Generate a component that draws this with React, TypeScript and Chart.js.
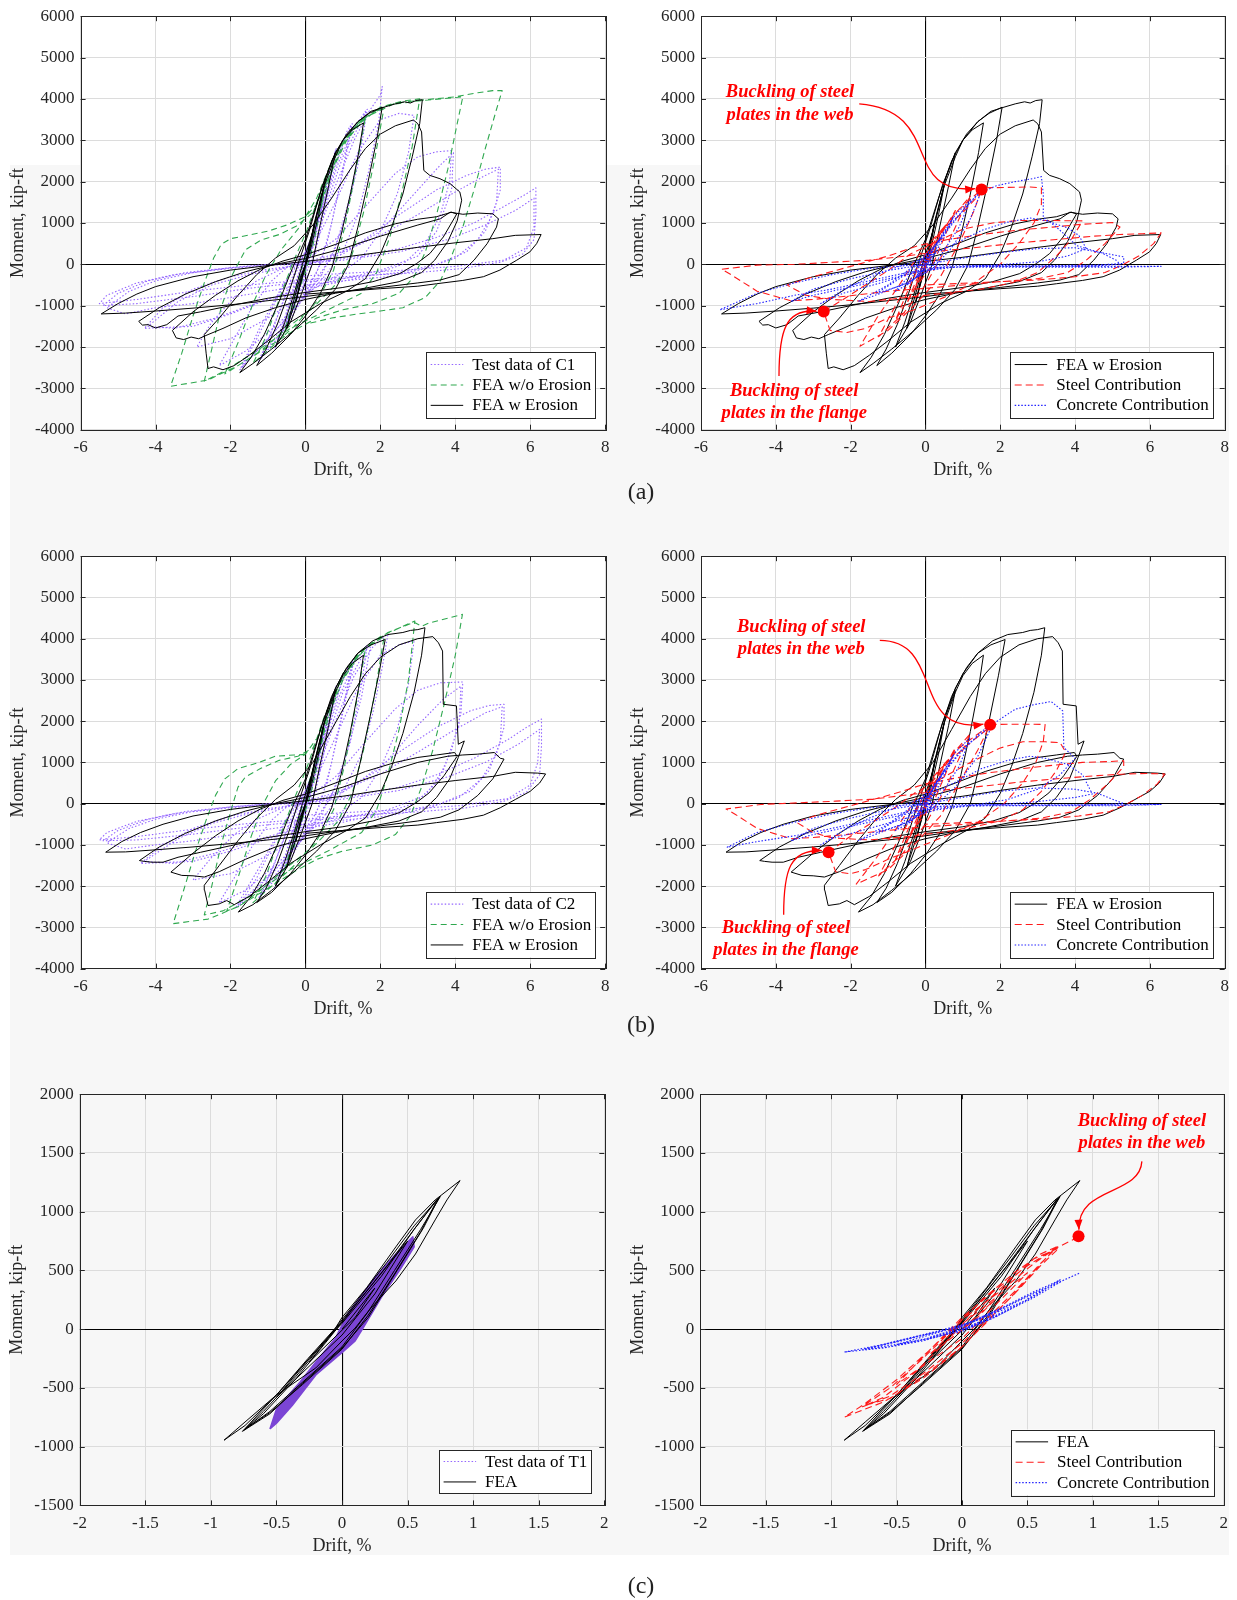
import React, { useEffect, useRef } from "react";
import { Chart, registerables } from "chart.js";
Chart.register(...registerables);

type P = [number, number];
const FONT = "'Liberation Serif', 'Times New Roman', Times, serif";
const AXIS = "#262626";
const GRID = "#dcdcdc";
const RED = "#ff0000";

// ---------- tick labels ----------
const X_TICKS_AB = [-6, -4, -2, 0, 2, 4, 6, 8];
const Y_TICKS_AB = [-4000, -3000, -2000, -1000, 0, 1000, 2000, 3000, 4000, 5000, 6000];
const X_TICKS_C = [-2, -1.5, -1, -0.5, 0, 0.5, 1, 1.5, 2];
const Y_TICKS_C = [-1500, -1000, -500, 0, 500, 1000, 1500, 2000];

// ---------- (a) specimen C1 ----------
const FEA_C1: P[] = [
[0,0],[0.12,500],[0.25,1000],[0.12,380],[0,0],[-0.12,-420],[-0.25,-900],[-0.12,-330],[0,0],
[0.25,1050],[0.5,1900],[0.35,1200],[0.15,400],[0.02,0],[-0.25,-850],[-0.5,-1550],[-0.35,-1000],[-0.15,-350],[0,0],
[0.3,1200],[0.55,2100],[0.8,2700],[0.62,1900],[0.38,900],[0.18,0],[-0.1,-700],[-0.4,-1400],[-0.8,-2000],[-0.55,-1400],[-0.3,-700],[-0.08,0],[0.2,800],
[0.5,1900],[0.8,2600],[1.0,3000],[1.25,3250],[1.55,3420],[1.42,2700],[1.2,1700],[0.95,700],[0.7,-100],[0.4,-700],[0,-1250],[-0.4,-1700],[-0.9,-2150],[-1.3,-2450],
[-1.05,-2050],[-0.75,-1450],[-0.45,-700],[-0.2,0],[0.1,800],[0.45,1900],[0.8,2700],[1.1,3150],[1.4,3450],[1.7,3650],[2.05,3800],
[1.9,3000],[1.65,1900],[1.4,900],[1.15,0],[0.8,-600],[0.3,-1100],[-0.3,-1600],[-0.9,-2050],[-1.4,-2400],[-1.75,-2620],
[-1.45,-2250],[-1.1,-1700],[-0.7,-900],[-0.35,-100],[0,600],[0.35,1600],[0.7,2500],[1.0,3000],[1.4,3450],[1.75,3700],[2.1,3800],[2.4,3880],[2.65,3930],[2.8,3900],[2.95,3960],[3.12,3980],
[3.05,3400],[2.85,2600],[2.6,1700],[2.3,900],[2.0,250],[1.6,-350],[1.1,-650],[0.4,-950],[-0.4,-1400],[-1.0,-1850],[-1.5,-2200],[-1.9,-2450],[-2.2,-2550],[-2.45,-2480],[-2.6,-2520],[-2.65,-2150],[-2.7,-1700],
[-2.3,-1300],[-1.8,-750],[-1.3,-250],[-0.8,150],[-0.3,450],[0.2,950],[0.7,1600],[1.2,2300],[1.6,2800],[2.0,3150],[2.4,3350],[2.88,3490],[3.0,3400],[3.1,3200],[3.16,2270],[3.32,2150],[3.59,2070],[3.86,1950],[4.12,1750],[4.17,1550],
[4.05,1050],[3.8,550],[3.45,100],[3.1,-200],[2.5,-420],[1.7,-560],[0.8,-700],[0,-850],[-0.8,-1050],[-1.6,-1300],[-2.2,-1550],[-2.6,-1700],[-2.85,-1800],[-3.05,-1760],[-3.25,-1820],[-3.45,-1780],[-3.55,-1600],
[-3.0,-1150],[-2.4,-750],[-1.8,-400],[-1.2,-120],[-0.6,80],[0,230],[0.8,480],[1.6,760],[2.4,980],[3.0,1090],[3.5,1150],[3.9,1260],[4.04,1220],
[3.68,660],[3.32,260],[2.97,20],[2.52,-225],[1.8,-420],[1.0,-560],[0,-680],[-1.0,-820],[-2.0,-1000],[-2.8,-1150],[-3.4,-1250],[-3.7,-1460],[-4.0,-1540],[-4.2,-1460],[-4.35,-1470],[-4.45,-1380],
[-3.9,-1050],[-3.2,-720],[-2.4,-420],[-1.6,-180],[-0.8,0],[0,140],[1.0,380],[2.0,680],[3.0,950],[3.6,1100],[3.86,1260],[4.2,1210],[4.6,1240],[5.0,1220],[5.15,1100],[5.1,900],
[4.85,500],[4.5,100],[4.1,-250],[3.6,-380],[3.0,-450],[2.0,-560],[1.0,-660],[0,-780],[-1.0,-880],[-2.0,-980],[-3.0,-1060],[-4.0,-1130],[-4.8,-1180],[-5.45,-1200],
[-5.0,-950],[-4.5,-720],[-4.0,-540],[-3.0,-300],[-2.0,-140],[-1.0,-30],[0,70],[1.0,170],[2.0,290],[3.0,410],[4.0,520],[5.0,620],[5.6,700],[6.29,720],
[6.17,500],[5.99,300],[5.64,100],[5.19,-140],[4.75,-300],[4.2,-390],[3.5,-470],[3.0,-530],[2.0,-590],[1.0,-660],[0,-720]
];

const FEA_NOEROS_C1: P[] = [
[0,0],[0.3,1150],[0.12,350],[0,0],[-0.3,-1050],[-0.1,-300],[0,0],
[0.6,2200],[0.4,1300],[0.15,250],[-0.2,-700],[-0.6,-1750],[-0.35,-950],[-0.1,-100],[0.3,1100],[0.9,2800],[1.3,3300],[1.6,3550],
[1.35,2300],[1.05,900],[0.75,-150],[0.3,-900],[-0.3,-1500],[-0.9,-2000],[-1.4,-2400],
[-1.05,-1750],[-0.7,-850],[-0.35,0],[0.05,850],[0.5,2000],[1.0,3000],[1.5,3500],[2.0,3780],[2.1,3800],
[1.85,2550],[1.55,1250],[1.25,250],[0.85,-450],[0.2,-1050],[-0.5,-1550],[-1.2,-2100],[-1.8,-2450],[-2.15,-2650],
[-1.8,-1900],[-1.4,-950],[-1.05,-250],[-0.65,350],[-0.2,850],[0.3,1600],[0.8,2700],[1.3,3300],[2.0,3800],[2.6,3950],[3.05,4000],
[2.85,2850],[2.55,1650],[2.25,650],[1.9,-200],[1.5,-700],[0.6,-1100],[-0.4,-1550],[-1.4,-2150],[-2.2,-2600],[-2.7,-2830],
[-2.5,-2050],[-2.25,-1050],[-1.95,-250],[-1.6,350],[-1.2,580],[-0.7,720],[-0.25,920],[0.2,1250],[0.6,2050],[1.0,2900],[1.5,3500],[2.2,3850],[3.0,3950],[3.6,4000],[4.2,4050],
[4.05,3400],[3.8,2300],[3.5,1200],[3.2,300],[2.9,-300],[2.5,-700],[1.8,-950],[1.0,-1100],[0.3,-1300],[-0.3,-1600],[-1.0,-2000],[-1.8,-2450],[-2.6,-2800],[-3.6,-2950],
[-3.3,-2150],[-3.0,-1250],[-2.7,-450],[-2.45,150],[-2.25,480],[-2.0,620],[-1.6,690],[-1.0,800],[-0.5,950],[0,1150],[0.35,1500],[0.7,2250],[1.1,3000],[1.6,3550],[2.4,3900],[3.2,3980],[4.0,4050],[4.6,4150],[5.0,4200],[5.25,4200],
[5.1,3750],[4.8,2800],[4.5,1800],[4.2,900],[3.9,200],[3.6,-400],[3.2,-800],[2.6,-1050],[2.0,-1130],[1.4,-1200],[0.7,-1300],[0,-1450]
];

const TEST_C1: P[] = [
[0,0],[0.25,950],[0.1,300],[-0.05,-100],[-0.25,-850],[-0.1,-250],[0.05,100],[0.28,1050],[0.1,250],[-0.28,-900],[-0.05,0],
[0.25,900],[0.5,1850],[0.3,900],[0.1,100],[-0.2,-650],[-0.5,-1500],[-0.3,-800],[-0.1,-150],[0.2,700],[0.52,1950],[0.3,800],[0.05,0],[-0.52,-1550],[-0.1,-100],
[0.3,1000],[0.6,2100],[0.8,2750],[0.6,1700],[0.35,600],[0.1,-200],[-0.3,-1000],[-0.8,-2000],[-0.55,-1300],[-0.3,-500],[0,200],[0.4,1300],[0.82,2800],[0.55,1500],[0.25,300],[-0.2,-700],[-0.82,-2050],[-0.4,-900],[-0.1,0],
[0.3,900],[0.7,2200],[1.1,3200],[1.2,3350],[1.0,2300],[0.7,1000],[0.4,0],[0,-700],[-0.5,-1500],[-1.2,-2300],[-0.9,-1600],[-0.5,-700],[-0.15,0],[0.2,700],[0.6,1800],[1.0,2900],[1.25,3400],[0.95,2000],[0.6,600],[0.3,-200],[-0.3,-1100],[-1.25,-2350],[-0.8,-1400],[-0.4,-400],[0,300],
[0.4,1200],[0.9,2500],[1.3,3300],[1.6,3700],[1.45,2800],[1.15,1500],[0.8,400],[0.4,-300],[-0.2,-1000],[-0.9,-1700],[-1.7,-2500],[-1.3,-1800],[-0.8,-900],[-0.4,-200],[0,300],[0.5,1300],[1.0,2600],[1.4,3300],[1.65,3750],[1.45,2600],[1.1,1200],[0.7,200],[0.2,-500],[-0.6,-1400],[-1.75,-2550],[-1.2,-1500],[-0.6,-500],[-0.2,0],
[0.3,700],[0.8,1900],[1.3,3000],[1.7,3700],[2.0,4100],[2.05,4300],[1.95,3400],[1.7,2300],[1.4,1200],[1.0,300],[0.5,-300],[0,-800],[-0.8,-1500],[-1.6,-2100],[-2.3,-2450],[-1.9,-1800],[-1.4,-1000],[-0.9,-400],[-0.4,0],[0.2,400],[0.8,1500],[1.4,2700],[2.0,3500],[2.5,3650],[2.9,3600],[2.75,2700],[2.45,1700],[2.0,800],[1.5,150],[0.8,-300],[0,-700],[-1.0,-1300],[-2.0,-1800],[-2.9,-2000],[-2.5,-1400],[-1.9,-800],[-1.3,-400],[-0.6,-100],[0,100],
[0.8,600],[1.6,1400],[2.4,2200],[3.0,2600],[3.5,2720],[3.9,2750],[3.85,2000],[3.6,1200],[3.2,500],[2.6,0],[1.8,-250],[0.8,-450],[0,-600],[-1.0,-850],[-2.0,-1200],[-3.0,-1500],[-4.3,-1550],[-3.8,-1050],[-3.0,-600],[-2.0,-300],[-1.0,-120],[0,0],[1.0,250],[2.0,800],[3.0,1800],[3.6,2400],[3.95,2700],[3.9,1800],[3.5,800],[3.0,200],[2.0,-150],[1.0,-350],[0,-550],[-1.2,-900],[-2.4,-1300],[-3.5,-1550],[-4.2,-1500],[-3.4,-900],[-2.5,-500],[-1.5,-250],[-0.5,-80],
[0.5,100],[1.5,550],[2.5,1200],[3.5,1800],[4.3,2150],[4.8,2300],[5.2,2350],[5.2,1800],[5.0,1200],[4.6,600],[4.0,150],[3.2,-100],[2.2,-300],[1.0,-400],[0,-500],[-1.0,-650],[-2.0,-800],[-3.0,-950],[-4.0,-1050],[-4.8,-1200],[-5.3,-1050],[-4.7,-650],[-4.0,-400],[-3.0,-200],[-2.0,-80],[-1.0,0],[0,50],[1.0,300],[2.0,700],[3.0,1200],[4.0,1750],[4.8,2150],[5.15,2300],[5.1,1500],[4.8,800],[4.3,300],[3.5,0],[2.5,-200],[1.2,-320],[0,-420],[-1.5,-580],[-3.0,-780],[-4.5,-950],[-5.4,-1000],
[-5.0,-700],[-4.2,-400],[-3.2,-200],[-2.0,-80],[-0.8,0],[0.5,80],[1.5,200],[2.5,380],[3.5,650],[4.5,1000],[5.3,1400],[5.8,1650],[6.15,1850],[6.15,1200],[6.1,600],[5.8,250],[5.2,50],[4.2,-100],[3.0,-200],[2.0,-250],[1.0,-300],[0,-380],[-1.5,-500],[-3.0,-650],[-4.5,-850],[-5.5,-950],[-5.3,-750],[-4.5,-450],[-3.5,-250],[-2.0,-100],[-1.0,-30],[0,20],[1.0,100],[2.5,300],[3.8,600],[4.8,950],[5.6,1300],[6.1,1600],[6.1,900],[5.9,400],[5.3,100],[4.0,-50],[2.5,-150],[1.0,-220],[0,-280]
];

const STEEL_C1: P[] = [
[0,0],[0.25,500],[0.1,150],[-0.25,-500],[-0.05,0],
[0.5,900],[0.3,450],[0,-100],[-0.5,-950],[-0.25,-400],[0,100],
[0.8,1300],[0.55,750],[0.2,0],[-0.3,-600],[-0.8,-1350],[-0.5,-700],[-0.1,100],[0.4,800],
[1.2,1650],[0.9,1100],[0.5,300],[0,-500],[-0.6,-1200],[-1.25,-1750],[-0.8,-1000],[-0.3,-200],[0.2,500],[0.8,1250],
[1.5,1810],[1.3,1300],[0.9,500],[0.4,-300],[-0.3,-1000],[-1.0,-1600],[-1.75,-1980],[-1.3,-1300],[-0.7,-500],[-0.2,200],[0.4,800],[1.0,1250],
[1.6,1850],[2.2,1860],[2.8,1870],[3.1,1850],[3.1,1450],[2.9,1000],[2.5,500],[2.0,0],[1.3,-450],[0.5,-800],[-0.3,-1100],[-1.0,-1300],[-1.6,-1550],[-2.1,-1650],[-2.55,-1600],[-2.72,-1143],
[-2.2,-850],[-1.6,-500],[-1.0,-150],[-0.4,250],[0.3,550],[1.0,850],[1.8,1000],[2.5,1060],[3.2,1060],[4.2,1050],
[3.9,600],[3.5,200],[3.0,-200],[2.3,-450],[1.5,-600],[0.5,-700],[-0.5,-800],[-1.5,-900],[-2.5,-850],[-3.2,-750],[-3.7,-500],
[-3.0,-300],[-2.0,-50],[-1.0,200],[-0.2,450],[0.6,600],[1.5,720],[2.5,830],[3.4,900],[4.2,970],[5.0,1010],[5.2,900],
[4.8,500],[4.3,100],[3.8,-200],[3.0,-350],[2.0,-420],[1.0,-500],[0,-580],[-1.0,-650],[-2.0,-760],[-3.0,-850],[-3.6,-880],[-4.5,-650],[-5.2,-250],[-5.45,-120],
[-4.5,-20],[-3.5,0],[-2.5,50],[-1.5,100],[-0.5,200],[0.5,330],[1.5,420],[2.5,520],[3.5,600],[4.5,680],[5.2,720],[5.8,740],[6.3,760],
[6.1,500],[5.7,200],[5.3,0],[4.8,-200],[4.0,-300],[3.0,-380],[2.0,-420],[1.0,-460],[0,-500]
];

const CONC_C1: P[] = [
[0,0],[0.25,450],[0.1,100],[-0.25,-300],[-0.05,0],
[0.5,800],[0.2,200],[-0.1,-200],[-0.5,-500],[-0.2,-100],[0.1,200],
[0.75,1150],[0.4,500],[0.1,0],[-0.4,-450],[-0.8,-650],[-0.3,-150],[0.2,350],[0.8,1200],
[1.2,1550],[0.9,900],[0.4,200],[0,-200],[-0.6,-500],[-1.3,-700],[-0.7,-350],[-0.2,0],[0.4,600],[1.0,1300],
[1.5,1780],[1.2,1100],[0.7,400],[0.2,-100],[-0.5,-450],[-1.2,-700],[-1.8,-900],[-1.0,-500],[-0.4,-100],[0.2,400],[0.8,1100],[1.4,1700],
[1.9,1900],[2.4,2000],[2.8,2060],[3.1,2120],[3.15,1700],[3.15,1140],[3.5,900],[4.05,450],[4.6,300],[5.3,180],[5.3,20],
[4.5,-20],[3.5,-30],[2.5,-40],[1.5,-50],[0.5,-80],[-0.3,-200],[-1.2,-450],[-2.2,-700],[-2.8,-950],
[-2.2,-620],[-1.5,-320],[-0.8,-80],[0,150],[0.8,500],[1.5,820],[2.2,1020],[2.8,1120],[3.2,1060],[3.8,880],[4.1,700],[4.3,380],
[3.8,200],[3.0,60],[2.0,-10],[1.0,-50],[0,-150],[-1.0,-350],[-2.0,-550],[-3.0,-750],[-3.6,-900],
[-3.0,-600],[-2.0,-350],[-1.0,-150],[0,0],[1.0,150],[2.0,280],[3.0,380],[4.0,400],[4.7,280],[5.1,100],[5.2,0],
[4.5,-40],[3.5,-50],[2.0,-50],[0.5,-60],[-0.5,-200],[-1.5,-400],[-2.5,-600],[-3.5,-750],[-4.5,-950],[-5.5,-1100],
[-4.5,-700],[-3.5,-450],[-2.5,-250],[-1.5,-100],[-0.5,-30],[0.5,-20],[2.0,-30],[3.5,-40],[5.0,-50],[6.3,-50],
[5.0,-70],[3.5,-70],[2.0,-70],[0.5,-70],[0,-80]
];

// ---------- (b) specimen C2 ----------
const FEA_C2: P[] = [
[0,0],[0.12,500],[0.25,1000],[0.12,380],[0,0],[-0.12,-420],[-0.25,-900],[-0.12,-330],[0,0],
[0.25,1050],[0.5,1950],[0.35,1200],[0.15,400],[0.02,0],[-0.25,-850],[-0.5,-1550],[-0.35,-1000],[-0.15,-350],[0,0],
[0.3,1200],[0.55,2150],[0.8,2750],[0.62,1900],[0.38,900],[0.18,0],[-0.1,-700],[-0.4,-1400],[-0.8,-2000],[-0.55,-1400],[-0.3,-700],[-0.08,0],[0.2,800],
[0.5,1950],[0.8,2700],[1.0,3100],[1.25,3400],[1.55,3600],[1.42,2800],[1.2,1750],[0.95,700],[0.7,-100],[0.4,-700],[0,-1250],[-0.4,-1700],[-0.9,-2150],[-1.3,-2400],
[-1.05,-2050],[-0.75,-1450],[-0.45,-700],[-0.2,0],[0.1,800],[0.45,1950],[0.8,2800],[1.1,3300],[1.4,3650],[1.75,3850],[2.13,3980],
[1.95,3100],[1.7,2000],[1.45,950],[1.2,0],[0.8,-650],[0.3,-1150],[-0.3,-1650],[-0.9,-2100],[-1.4,-2450],[-1.79,-2630],
[-1.45,-2250],[-1.1,-1700],[-0.7,-900],[-0.35,-100],[0,600],[0.35,1650],[0.7,2600],[1.0,3150],[1.4,3650],[1.8,3950],[2.2,4100],[2.6,4150],[2.8,4200],[3.0,4220],[3.19,4266],
[3.1,3600],[2.9,2700],[2.6,1700],[2.3,900],[2.0,250],[1.6,-350],[1.1,-650],[0.4,-1000],[-0.4,-1450],[-1.0,-1900],[-1.5,-2250],[-1.9,-2450],[-2.1,-2350],[-2.3,-2430],[-2.6,-2470],[-2.69,-2100],[-2.7,-1980],
[-2.3,-1500],[-1.8,-900],[-1.3,-350],[-0.8,100],[-0.3,450],[0.2,1000],[0.7,1800],[1.2,2600],[1.6,3150],[2.0,3550],[2.5,3850],[3.0,4000],[3.4,4050],[3.55,3900],[3.66,3700],[3.68,2410],[4.03,2370],[4.08,1440],[4.24,1520],[4.08,1120],
[3.85,600],[3.5,150],[3.1,-200],[2.5,-420],[1.7,-560],[0.8,-700],[0,-850],[-0.8,-1050],[-1.6,-1350],[-2.3,-1650],[-2.7,-1780],[-3.0,-1750],[-3.3,-1740],[-3.59,-1660],
[-3.0,-1200],[-2.4,-780],[-1.8,-420],[-1.2,-130],[-0.6,80],[0,230],[0.8,500],[1.6,780],[2.4,1000],[3.0,1120],[3.5,1180],[3.98,1240],[4.05,1150],
[3.7,680],[3.3,260],[2.95,20],[2.5,-220],[1.8,-420],[1.0,-560],[0,-680],[-1.0,-820],[-2.0,-1020],[-2.8,-1180],[-3.4,-1300],[-3.8,-1420],[-4.1,-1420],[-4.3,-1400],[-4.43,-1380],
[-3.9,-1050],[-3.2,-720],[-2.4,-420],[-1.6,-180],[-0.8,0],[0,150],[1.0,400],[2.0,720],[3.0,1000],[3.8,1150],[4.2,1180],[4.6,1200],[5.04,1240],[5.2,1100],[5.3,1080],
[5.0,600],[4.6,200],[4.1,-150],[3.6,-330],[3.0,-420],[2.0,-540],[1.0,-650],[0,-780],[-1.0,-880],[-2.0,-970],[-3.0,-1050],[-4.0,-1120],[-4.8,-1170],[-5.33,-1177],
[-4.9,-920],[-4.4,-700],[-3.8,-500],[-3.0,-300],[-2.0,-140],[-1.0,-30],[0,70],[1.0,180],[2.0,320],[3.0,450],[4.0,560],[5.0,660],[5.6,760],[6.2,740],[6.41,720],
[6.25,500],[6.0,300],[5.6,100],[5.2,-100],[4.75,-280],[4.2,-380],[3.5,-460],[3.0,-520],[2.0,-580],[1.0,-650],[0,-720]
];

const FEA_NOEROS_C2: P[] = [
[0,0],[0.3,1150],[0.12,350],[0,0],[-0.3,-1050],[-0.1,-300],[0,0],
[0.6,2250],[0.4,1300],[0.15,250],[-0.2,-700],[-0.6,-1750],[-0.35,-950],[-0.1,-100],[0.3,1150],[0.9,2900],[1.3,3450],[1.6,3750],
[1.35,2400],[1.05,950],[0.75,-150],[0.3,-900],[-0.3,-1500],[-0.9,-2000],[-1.4,-2400],
[-1.05,-1750],[-0.7,-850],[-0.35,0],[0.05,900],[0.5,2100],[1.0,3150],[1.5,3700],[2.0,4000],[2.1,4050],
[1.85,2650],[1.55,1300],[1.25,250],[0.85,-450],[0.2,-1050],[-0.5,-1550],[-1.2,-2100],[-1.8,-2500],[-2.1,-2600],
[-1.8,-1800],[-1.45,-800],[-1.15,-50],[-0.8,550],[-0.4,950],[0,1200],[0.4,1700],[0.9,2900],[1.4,3650],[2.0,4050],[2.6,4300],[2.92,4430],
[2.75,3000],[2.5,1800],[2.2,700],[1.9,-150],[1.5,-700],[0.6,-1150],[-0.4,-1600],[-1.4,-2200],[-2.2,-2600],[-2.7,-2700],
[-2.5,-2000],[-2.25,-1000],[-2.0,-200],[-1.8,400],[-1.6,650],[-1.2,850],[-0.7,1050],[-0.2,1150],[0.2,1350],[0.6,2100],[1.0,3000],[1.5,3700],[2.2,4150],[2.9,4400],[3.1,4300],[3.3,4380],[3.6,4450],[4.19,4590],
[4.0,3600],[3.7,2400],[3.4,1300],[3.1,400],[2.8,-300],[2.4,-750],[1.8,-1000],[1.0,-1150],[0.3,-1350],[-0.3,-1650],[-1.0,-2050],[-1.8,-2500],[-2.6,-2800],[-3.53,-2910],
[-3.25,-2100],[-2.95,-1200],[-2.65,-400],[-2.4,200],[-2.15,600],[-1.8,850],[-1.3,980],[-0.8,1150],[-0.3,1180],[0.1,1200]
];

const TEST_C2: P[] = [
[0,0],[0.25,1000],[0.1,300],[-0.05,-100],[-0.25,-850],[-0.1,-250],[0.05,100],[0.28,1050],[0.1,250],[-0.28,-900],[-0.05,0],
[0.25,950],[0.5,1900],[0.3,900],[0.1,100],[-0.2,-650],[-0.5,-1500],[-0.3,-800],[-0.1,-150],[0.2,750],[0.52,2000],[0.3,800],[0.05,0],[-0.52,-1550],[-0.1,-100],
[0.3,1050],[0.6,2150],[0.8,2750],[0.6,1700],[0.35,600],[0.1,-200],[-0.3,-1000],[-0.8,-2000],[-0.55,-1300],[-0.3,-500],[0,200],[0.4,1350],[0.82,2850],[0.55,1500],[0.25,300],[-0.2,-700],[-0.82,-2050],[-0.4,-900],[-0.1,0],
[0.3,950],[0.7,2300],[1.1,3250],[1.25,3450],[1.0,2300],[0.7,1000],[0.4,0],[0,-700],[-0.5,-1500],[-1.2,-2250],[-0.9,-1600],[-0.5,-700],[-0.15,0],[0.2,750],[0.6,1900],[1.0,3000],[1.3,3500],[0.95,2000],[0.6,600],[0.3,-200],[-0.3,-1100],[-1.25,-2300],[-0.8,-1400],[-0.4,-400],[0,300],
[0.4,1250],[0.9,2600],[1.3,3400],[1.65,3850],[1.5,2900],[1.2,1500],[0.8,400],[0.4,-300],[-0.2,-1000],[-0.9,-1700],[-1.8,-2500],[-1.3,-1800],[-0.8,-900],[-0.4,-200],[0,300],[0.5,1350],[1.0,2700],[1.5,3550],[1.75,3900],[1.5,2600],[1.1,1200],[0.7,200],[0.2,-500],[-0.6,-1400],[-1.85,-2500],[-1.2,-1500],[-0.6,-500],[-0.2,0],
[0.3,750],[0.8,2000],[1.3,3100],[1.8,3800],[2.1,4050],[2.2,4100],[2.05,3300],[1.8,2200],[1.5,1200],[1.0,300],[0.5,-300],[0,-800],[-0.8,-1500],[-1.6,-2100],[-2.3,-2400],[-1.9,-1800],[-1.4,-1000],[-0.9,-400],[-0.4,0],[0.2,450],[0.8,1600],[1.4,2800],[2.0,3600],[2.5,3850],[2.9,3950],[2.75,2900],[2.45,1800],[2.0,850],[1.5,150],[0.8,-300],[0,-700],[-1.0,-1250],[-2.0,-1700],[-3.0,-1850],[-2.5,-1300],[-1.9,-750],[-1.3,-380],[-0.6,-100],[0,100],
[0.8,650],[1.6,1500],[2.4,2300],[3.0,2750],[3.6,2930],[4.2,2950],[4.15,2200],[3.9,1300],[3.5,500],[2.9,0],[2.0,-250],[1.0,-450],[0,-600],[-1.0,-850],[-2.0,-1150],[-3.0,-1400],[-4.4,-1450],[-3.8,-1000],[-3.0,-600],[-2.0,-300],[-1.0,-120],[0,0],[1.0,280],[2.0,850],[3.0,1900],[3.7,2550],[4.15,2850],[4.1,1900],[3.7,850],[3.2,200],[2.2,-150],[1.0,-350],[0,-550],[-1.2,-850],[-2.4,-1200],[-3.5,-1450],[-4.3,-1400],[-3.4,-850],[-2.5,-480],[-1.5,-240],[-0.5,-80],
[0.5,100],[1.5,580],[2.5,1250],[3.5,1850],[4.4,2250],[4.9,2380],[5.3,2410],[5.3,1850],[5.1,1200],[4.7,600],[4.1,150],[3.3,-100],[2.2,-300],[1.0,-400],[0,-500],[-1.0,-620],[-2.0,-760],[-3.0,-900],[-4.0,-1000],[-4.8,-1100],[-5.3,-950],[-4.7,-600],[-4.0,-380],[-3.0,-190],[-2.0,-80],[-1.0,0],[0,50],[1.0,320],[2.0,720],[3.0,1250],[4.0,1800],[4.8,2200],[5.25,2350],[5.2,1500],[4.9,800],[4.4,300],[3.6,0],[2.5,-200],[1.2,-320],[0,-420],[-1.5,-560],[-3.0,-740],[-4.5,-880],[-5.4,-900],
[-5.0,-650],[-4.2,-380],[-3.2,-190],[-2.0,-80],[-0.8,0],[0.5,90],[1.5,220],[2.5,400],[3.5,700],[4.5,1100],[5.4,1550],[5.9,1850],[6.3,2050],[6.3,1400],[6.25,700],[5.9,280],[5.3,60],[4.3,-100],[3.0,-200],[2.0,-250],[1.0,-300],[0,-380],[-1.5,-480],[-3.0,-620],[-4.5,-800],[-5.5,-880],[-5.3,-700],[-4.5,-430],[-3.5,-240],[-2.0,-100],[-1.0,-30],[0,20],[1.0,110],[2.5,320],[3.8,650],[4.8,1000],[5.7,1450],[6.25,1800],[6.2,1000],[6.0,450],[5.4,120],[4.1,-50],[2.5,-150],[1.0,-220],[0,-280]
];

const STEEL_C2: P[] = [
[0,0],[0.25,500],[0.1,150],[-0.25,-500],[-0.05,0],
[0.5,950],[0.3,450],[0,-100],[-0.5,-950],[-0.25,-400],[0,100],
[0.8,1350],[0.55,750],[0.2,0],[-0.3,-600],[-0.8,-1350],[-0.5,-700],[-0.1,100],[0.4,850],
[1.2,1700],[0.9,1100],[0.5,300],[0,-500],[-0.6,-1200],[-1.25,-1750],[-0.8,-1000],[-0.3,-200],[0.2,550],[0.9,1350],
[1.73,1910],[1.4,1300],[0.9,500],[0.4,-300],[-0.3,-1000],[-1.0,-1600],[-1.85,-1950],[-1.3,-1300],[-0.7,-500],[-0.2,200],[0.4,850],[1.1,1400],
[1.8,1920],[2.4,1925],[2.9,1925],[3.2,1920],[3.15,1500],[2.95,1000],[2.6,500],[2.1,0],[1.4,-450],[0.5,-800],[-0.3,-1100],[-1.0,-1350],[-1.6,-1600],[-2.0,-1700],[-2.4,-1650],[-2.59,-1180],
[-2.1,-850],[-1.5,-500],[-0.9,-150],[-0.3,250],[0.4,600],[1.2,1000],[2.0,1350],[2.6,1500],[3.2,1500],[3.6,1480],[3.75,1250],
[3.5,800],[3.1,300],[2.6,-150],[2.0,-420],[1.2,-580],[0.4,-700],[-0.5,-800],[-1.5,-880],[-2.5,-830],[-3.0,-700],[-3.45,-450],
[-2.8,-250],[-1.8,0],[-0.8,250],[0,480],[0.8,620],[1.7,750],[2.6,850],[3.4,930],[4.2,1000],[4.9,1020],[5.3,1040],[5.3,900],
[4.9,500],[4.4,100],[3.9,-200],[3.1,-350],[2.1,-420],[1.1,-500],[0,-560],[-1.0,-650],[-2.0,-740],[-3.0,-820],[-3.6,-850],[-4.5,-600],[-5.1,-250],[-5.33,-130],
[-4.4,-20],[-3.4,20],[-2.4,60],[-1.4,110],[-0.4,220],[0.6,340],[1.6,430],[2.6,530],[3.6,610],[4.6,680],[5.4,720],[5.9,730],[6.4,720],
[6.2,480],[5.8,200],[5.4,0],[4.9,-200],[4.1,-300],[3.1,-380],[2.1,-420],[1.1,-460],[0,-500]
];

const CONC_C2: P[] = [
[0,0],[0.25,450],[0.1,100],[-0.25,-300],[-0.05,0],
[0.5,820],[0.2,200],[-0.1,-200],[-0.5,-500],[-0.2,-100],[0.1,200],
[0.75,1180],[0.4,500],[0.1,0],[-0.4,-450],[-0.8,-650],[-0.3,-150],[0.2,350],[0.8,1250],
[1.2,1600],[0.9,900],[0.4,200],[0,-200],[-0.6,-500],[-1.3,-700],[-0.7,-350],[-0.2,0],[0.4,650],[1.0,1350],
[1.78,1890],[1.4,1150],[0.8,400],[0.2,-100],[-0.5,-450],[-1.2,-700],[-1.8,-900],[-1.0,-500],[-0.4,-100],[0.2,420],[0.9,1200],[1.5,1750],
[2.0,2050],[2.4,2290],[2.9,2400],[3.36,2476],[3.6,2300],[3.67,2250],[3.7,1360],[4.0,1100],[3.6,700],[3.0,350],[2.2,100],[1.2,-50],[0.3,-150],[-0.5,-350],[-1.5,-600],[-2.5,-850],[-2.8,-1000],
[-2.2,-650],[-1.5,-350],[-0.8,-100],[0,150],[0.8,520],[1.5,850],[2.2,1050],[2.8,1150],[3.2,1100],[3.8,950],[4.2,700],[4.46,234],
[4.0,150],[3.0,50],[2.0,-20],[1.0,-50],[0,-150],[-1.0,-350],[-2.0,-550],[-3.0,-750],[-3.6,-900],
[-3.0,-600],[-2.0,-350],[-1.0,-150],[0,0],[1.0,150],[2.0,300],[3.0,380],[4.0,350],[4.6,250],[5.1,72],[5.3,0],
[4.5,-30],[3.5,-40],[2.0,-50],[0.5,-60],[-0.5,-200],[-1.5,-400],[-2.5,-600],[-3.5,-780],[-4.5,-920],[-5.3,-1056],
[-4.5,-700],[-3.5,-450],[-2.5,-250],[-1.5,-100],[-0.5,-30],[0.5,-20],[2.0,-30],[3.5,-30],[5.0,-30],[6.3,-20],
[5.0,-50],[3.5,-50],[2.0,-50],[0.5,-60],[0,-80]
];

// ---------- (c) specimen T1 ----------
const FEA_T1: P[] = [
[0,0],[0.25,350],[0.1,100],[-0.25,-280],[-0.05,0],
[0.5,750],[0.25,300],[0,-50],[-0.5,-580],[-0.25,-250],[0,50],
[0.3,450],[0.55,850],[0.72,1100],[0.75,1130],[0.6,850],[0.4,500],[0.2,150],[0,-150],[-0.3,-450],[-0.55,-700],[-0.75,-860],
[-0.6,-720],[-0.35,-420],[-0.1,-80],[0.1,200],[0.35,550],[0.55,850],[0.73,1110],
[0.6,830],[0.4,470],[0.2,120],[0,-170],[-0.3,-470],[-0.55,-710],[-0.74,-850],
[-0.6,-700],[-0.35,-400],[-0.1,-60],[0.1,220],[0.35,580],[0.55,880],[0.74,1120],
[0.62,860],[0.42,500],[0.2,100],[0,-160],[-0.3,-460],[-0.55,-720],[-0.76,-870],
[-0.5,-560],[-0.26,-250],[-0.05,10],[0,100],[0.19,356],[0.41,700],[0.56,930],[0.71,1100],[0.9,1265],
[0.8,1100],[0.71,930],[0.56,640],[0.41,410],[0.22,180],[0.1,10],[0,-100],[-0.2,-330],[-0.5,-560],[-0.74,-790],[-0.9,-945],
[-0.74,-820],[-0.5,-560],[-0.3,-310],[-0.1,-60],[0,60]
];

const TEST_T1: P[] = [
[-0.55,-850],[-0.5,-680],[-0.32,-450],[-0.2,-280],[-0.05,-75],[0.04,125],[0.25,440],[0.41,640],[0.54,786],
[0.55,700],[0.45,520],[0.3,270],[0.16,10],[0.1,-100],[0.01,-190],[-0.2,-390],[-0.38,-650],[-0.5,-800],[-0.55,-850]
];

const STEEL_T1: P[] = [
[0,0],[0.25,250],[0.1,80],[-0.25,-220],[-0.05,0],
[0.5,480],[0.25,200],[0,-80],[-0.5,-470],[-0.25,-180],[0,80],
[0.3,330],[0.55,560],[0.73,700],[0.6,560],[0.4,320],[0.2,100],[0,-120],[-0.3,-380],[-0.55,-570],[-0.76,-660],
[-0.6,-580],[-0.35,-360],[-0.1,-80],[0.1,150],[0.35,400],[0.55,600],[0.74,690],
[0.6,540],[0.4,300],[0.2,80],[0,-150],[-0.3,-400],[-0.55,-590],[-0.75,-650],
[-0.55,-500],[-0.3,-250],[-0.05,20],[0.15,250],[0.4,480],[0.6,640],[0.72,700],
[0.58,530],[0.38,280],[0.18,50],[-0.02,-170],[-0.3,-420],[-0.6,-620],[-0.9,-750],
[-0.75,-640],[-0.5,-430],[-0.25,-180],[0,100],[0.25,330],[0.5,540],[0.7,680],[0.9,790]
];

const CONC_T1: P[] = [
[0,0],[0.25,120],[0.1,40],[-0.25,-70],[-0.05,0],
[0.5,250],[0.25,100],[0,-20],[-0.5,-130],[-0.25,-50],[0,30],
[0.35,200],[0.6,330],[0.75,400],[0.55,270],[0.3,130],[0.1,30],[-0.2,-70],[-0.5,-130],[-0.75,-170],
[-0.5,-110],[-0.25,-40],[0,30],[0.3,180],[0.55,320],[0.74,410],
[0.5,250],[0.25,110],[0,0],[-0.3,-90],[-0.55,-150],[-0.76,-175],
[-0.5,-100],[-0.2,-20],[0.1,70],[0.4,230],[0.6,340],[0.75,420],
[0.55,280],[0.3,140],[0.05,10],[-0.3,-100],[-0.6,-160],[-0.9,-195],
[-0.6,-130],[-0.3,-50],[0,20],[0.3,170],[0.6,330],[0.9,478],
[0.7,380],[0.5,260]
];

// ---------- buckling markers ----------
const BUCKLE_A: P[] = [[1.5, 1810], [-2.72, -1143]];
const BUCKLE_B: P[] = [[1.73, 1910], [-2.59, -1180]];
const BUCKLE_C: P[] = [[0.89, 790]];

// annotation text anchors (data coords) and arrow bezier controls
const NOTE_WEB = ["Buckling of steel", "plates in the web"];
const NOTE_FLANGE = ["Buckling of steel", "plates in the flange"];
const NOTES_A = [
  { lines: NOTE_WEB, at: [[-3.62, 4150], [-3.62, 3611]] as P[] },
  { lines: NOTE_FLANGE, at: [[-3.51, -3066], [-3.51, -3604]] as P[] },
];
const ARROWS_A: P[][] = [
  [[-1.77, 3881], [0.52, 3715], [-0.68, 1664], [1.33, 1830]],
  [[-3.915, -2704], [-3.915, -1594], [-3.728, -1063], [-2.91, -1135]],
];
const NOTES_B = [
  { lines: NOTE_WEB, at: [[-3.32, 4275], [-3.32, 3734]] as P[] },
  { lines: NOTE_FLANGE, at: [[-3.73, -3015], [-3.73, -3556]] as P[] },
];
const ARROWS_B: P[][] = [
  [[-1.22, 3959], [0.52, 3954], [-0.41, 1661], [1.55, 1927]],
  [[-3.79, -2694], [-3.79, -1596], [-3.62, -1113], [-2.77, -1137]],
];
const NOTES_C = [{ lines: NOTE_WEB, at: [[1.374, 1774], [1.374, 1584]] as P[] }];
const ARROWS_C: P[][] = [[[1.374, 1428], [1.359, 1134], [0.878, 1219], [0.893, 846]]];

// ---------- styles ----------
const ST = {
  black: { color: "#000000", width: 1, dash: [] as number[] },
  green: { color: "#2fa84f", width: 1.1, dash: [6, 4] },
  purple: { color: "#9466ff", width: 1.1, dash: [1.5, 2] },
  red: { color: "#ff1a1a", width: 1.1, dash: [7, 4] },
  blue: { color: "#2323ff", width: 1.1, dash: [1.5, 1.8] },
};

type Style = { color: string; width: number; dash: number[] };
type Series = { data: P[]; style: Style; fill?: string };
type Rect = { l: number; t: number; r: number; b: number };
type Panel = {
  col: number;
  plot: Rect;
  xr: [number, number];
  yr: [number, number];
  xTicks: number[];
  yTicks: number[];
  series: Series[];
  dots: P[];
  legend: { label: string; style: Style }[];
  legendGap: [number, number];
  notes: { lines: string[]; at: P[] }[];
  arrows: P[][];
  white: boolean;
};

const PLOT_AL: Rect = { l: 80.6, t: 15.3, r: 605.2, b: 429.7 };
const PLOT_AR: Rect = { l: 701, t: 15.3, r: 1224.7, b: 429.7 };
const PLOT_BL: Rect = { l: 80.6, t: 555.2, r: 605.2, b: 968.6 };
const PLOT_BR: Rect = { l: 701, t: 555.2, r: 1224.7, b: 968.6 };
const PLOT_CL: Rect = { l: 79.8, t: 1093, r: 604.3, b: 1505.4 };
const PLOT_CR: Rect = { l: 700.3, t: 1093, r: 1223.8, b: 1505.4 };

const PANELS: Panel[] = [
  {
    col: 0, plot: PLOT_AL, xr: [-6, 8], yr: [-4000, 6000], xTicks: X_TICKS_AB, yTicks: Y_TICKS_AB,
    series: [{ data: FEA_C1, style: ST.black }, { data: FEA_NOEROS_C1, style: ST.green }, { data: TEST_C1, style: ST.purple }],
    dots: [],
    legend: [{ label: "Test data of C1", style: ST.purple }, { label: "FEA w/o Erosion", style: ST.green }, { label: "FEA w Erosion", style: ST.black }],
    legendGap: [10, 12], notes: [], arrows: [], white: true,
  },
  {
    col: 1, plot: PLOT_AR, xr: [-6, 8], yr: [-4000, 6000], xTicks: X_TICKS_AB, yTicks: Y_TICKS_AB,
    series: [{ data: CONC_C1, style: ST.blue }, { data: STEEL_C1, style: ST.red }, { data: FEA_C1, style: ST.black }],
    dots: BUCKLE_A,
    legend: [{ label: "FEA w Erosion", style: ST.black }, { label: "Steel Contribution", style: ST.red }, { label: "Concrete Contribution", style: ST.blue }],
    legendGap: [12, 12], notes: NOTES_A, arrows: ARROWS_A, white: true,
  },
  {
    col: 0, plot: PLOT_BL, xr: [-6, 8], yr: [-4000, 6000], xTicks: X_TICKS_AB, yTicks: Y_TICKS_AB,
    series: [{ data: FEA_C2, style: ST.black }, { data: FEA_NOEROS_C2, style: ST.green }, { data: TEST_C2, style: ST.purple }],
    dots: [],
    legend: [{ label: "Test data of C2", style: ST.purple }, { label: "FEA w/o Erosion", style: ST.green }, { label: "FEA w Erosion", style: ST.black }],
    legendGap: [10, 11.3], notes: [], arrows: [], white: true,
  },
  {
    col: 1, plot: PLOT_BR, xr: [-6, 8], yr: [-4000, 6000], xTicks: X_TICKS_AB, yTicks: Y_TICKS_AB,
    series: [{ data: CONC_C2, style: ST.blue }, { data: STEEL_C2, style: ST.red }, { data: FEA_C2, style: ST.black }],
    dots: BUCKLE_B,
    legend: [{ label: "FEA w Erosion", style: ST.black }, { label: "Steel Contribution", style: ST.red }, { label: "Concrete Contribution", style: ST.blue }],
    legendGap: [12, 11.3], notes: NOTES_B, arrows: ARROWS_B, white: true,
  },
  {
    col: 0, plot: PLOT_CL, xr: [-2, 2], yr: [-1500, 2000], xTicks: X_TICKS_C, yTicks: Y_TICKS_C,
    series: [{ data: FEA_T1, style: ST.black }, { data: TEST_T1, style: { color: "#7b45d5", width: 1.5, dash: [] }, fill: "#7b45d5" }],
    dots: [],
    legend: [{ label: "Test data of T1", style: ST.purple }, { label: "FEA", style: ST.black }],
    legendGap: [13, 12], notes: [], arrows: [], white: false,
  },
  {
    col: 1, plot: PLOT_CR, xr: [-2, 2], yr: [-1500, 2000], xTicks: X_TICKS_C, yTicks: Y_TICKS_C,
    series: [{ data: CONC_T1, style: ST.blue }, { data: STEEL_T1, style: ST.red }, { data: FEA_T1, style: ST.black }],
    dots: BUCKLE_C,
    legend: [{ label: "FEA", style: ST.black }, { label: "Steel Contribution", style: ST.red }, { label: "Concrete Contribution", style: ST.blue }],
    legendGap: [10.2, 10.4], notes: NOTES_C, arrows: ARROWS_C, white: false,
  },
];

const SUB_LABELS = [
  { text: "(a)", y: 491 },
  { text: "(b)", y: 1024 },
  { text: "(c)", y: 1585 },
];

const COL_X = [0, 630];
const COL_W = [640, 607];
const CANVAS_H = 500;

function makePlugin(p: Panel) {
  return {
    id: "panelDeco",
    beforeDraw(chart: any) {
      if (!p.white) return;
      const { ctx, chartArea: a } = chart;
      ctx.save();
      ctx.fillStyle = "#ffffff";
      ctx.fillRect(a.left, a.top, a.right - a.left, a.bottom - a.top);
      ctx.restore();
    },
    afterDatasetsDraw(chart: any) {
      const { ctx, chartArea: a, scales } = chart;
      const xs = scales.x, ys = scales.y;
      ctx.save();
      ctx.strokeStyle = AXIS;
      ctx.lineWidth = 1;
      ctx.setLineDash([]);
      ctx.beginPath();
      for (const v of p.xTicks) {
        const px = Math.round(xs.getPixelForValue(v)) + 0.5;
        ctx.moveTo(px, a.bottom); ctx.lineTo(px, a.bottom - 5);
        ctx.moveTo(px, a.top); ctx.lineTo(px, a.top + 5);
      }
      for (const v of p.yTicks) {
        const py = Math.round(ys.getPixelForValue(v)) + 0.5;
        ctx.moveTo(a.left, py); ctx.lineTo(a.left + 5, py);
        ctx.moveTo(a.right, py); ctx.lineTo(a.right - 5, py);
      }
      ctx.stroke();
      ctx.strokeRect(Math.round(a.left) + 0.5, Math.round(a.top) + 0.5, Math.round(a.right - a.left), Math.round(a.bottom - a.top));
      ctx.restore();
    },
    afterDraw(chart: any) {
      const { ctx, chartArea: a, scales } = chart;
      const xs = scales.x, ys = scales.y;
      ctx.save();
      // axis titles
      ctx.fillStyle = AXIS;
      ctx.font = `18px ${FONT}`;
      ctx.textAlign = "center";
      ctx.textBaseline = "middle";
      ctx.fillText("Drift, %", (a.left + a.right) / 2, a.bottom + 41);
      ctx.save();
      ctx.translate(a.left - 62.5, (a.top + a.bottom) / 2);
      ctx.rotate(-Math.PI / 2);
      ctx.fillText("Moment, kip-ft", 0, 0);
      ctx.restore();

      // legend
      ctx.font = `17px ${FONT}`;
      const tw = Math.max(...p.legend.map((l) => ctx.measureText(l.label).width));
      const rowH = 20.4;
      const n = p.legend.length;
      const w = 46 + tw + 4;
      const h = n * rowH + (n > 2 ? 4.3 : 2.5);
      const x0 = a.right - p.legendGap[0] - w;
      const y0 = a.bottom - p.legendGap[1] - h;
      ctx.fillStyle = "#ffffff";
      ctx.fillRect(x0, y0, w, h);
      ctx.strokeStyle = AXIS;
      ctx.lineWidth = 1;
      ctx.setLineDash([]);
      ctx.strokeRect(Math.round(x0) + 0.5, Math.round(y0) + 0.5, Math.round(w), Math.round(h));
      p.legend.forEach((l, i) => {
        const cy = y0 + (h - n * rowH) / 2 + rowH * (i + 0.5);
        ctx.strokeStyle = l.style.color;
        ctx.lineWidth = l.style.width;
        ctx.setLineDash(l.style.dash);
        ctx.beginPath();
        ctx.moveTo(x0 + 4.5, cy);
        ctx.lineTo(x0 + 37, cy);
        ctx.stroke();
        ctx.setLineDash([]);
        ctx.fillStyle = "#000000";
        ctx.textAlign = "left";
        ctx.textBaseline = "middle";
        ctx.fillText(l.label, x0 + 46, cy + 0.5);
      });

      // annotations
      ctx.fillStyle = RED;
      ctx.font = `italic bold 18.5px ${FONT}`;
      ctx.textAlign = "center";
      ctx.textBaseline = "middle";
      for (const note of p.notes) {
        note.lines.forEach((t, i) => {
          const [dx, dy] = note.at[i];
          ctx.fillText(t, xs.getPixelForValue(dx), ys.getPixelForValue(dy));
        });
      }
      ctx.strokeStyle = RED;
      ctx.lineWidth = 1.3;
      ctx.setLineDash([]);
      for (const arr of p.arrows) {
        const pts = arr.map(([dx, dy]) => [xs.getPixelForValue(dx), ys.getPixelForValue(dy)]);
        ctx.beginPath();
        ctx.moveTo(pts[0][0], pts[0][1]);
        ctx.bezierCurveTo(pts[1][0], pts[1][1], pts[2][0], pts[2][1], pts[3][0], pts[3][1]);
        ctx.stroke();
        const ang = Math.atan2(pts[3][1] - pts[2][1], pts[3][0] - pts[2][0]);
        const L = 10, W = 4;
        const tx = pts[3][0], ty = pts[3][1];
        ctx.beginPath();
        ctx.moveTo(tx, ty);
        ctx.lineTo(tx - L * Math.cos(ang) + W * Math.sin(ang), ty - L * Math.sin(ang) - W * Math.cos(ang));
        ctx.lineTo(tx - L * Math.cos(ang) - W * Math.sin(ang), ty - L * Math.sin(ang) + W * Math.cos(ang));
        ctx.closePath();
        ctx.fill();
      }
      ctx.restore();
    },
  };
}

function buildConfig(p: Panel, canvasTop: number): any {
  const cx = COL_X[p.col];
  const cw = COL_W[p.col];
  const padTop = p.plot.t - canvasTop;
  const padRight = cx + cw - p.plot.r;
  const yW = p.plot.l - cx;
  const xH = canvasTop + CANVAS_H - p.plot.b;

  const datasets: any[] = p.series.map((s) => ({
    data: s.data.map(([x, y]) => ({ x, y })),
    showLine: true,
    borderColor: s.style.color,
    borderWidth: s.style.width,
    borderDash: s.style.dash,
    borderJoinStyle: "round",
    pointRadius: 0,
    pointHoverRadius: 0,
    tension: 0,
    fill: s.fill ? "shape" : false,
    backgroundColor: s.fill || "rgba(0,0,0,0)",
  }));
  if (p.dots.length) {
    datasets.unshift({
      data: p.dots.map(([x, y]) => ({ x, y })),
      showLine: false,
      pointRadius: 6,
      pointHoverRadius: 6,
      pointBackgroundColor: RED,
      pointBorderColor: RED,
      pointBorderWidth: 0,
    });
  }

  const gridColor = (c: any) => (c.tick && c.tick.value === 0 ? "#000000" : GRID);
  const gridWidth = (c: any) => (c.tick && c.tick.value === 0 ? 1.1 : 1);
  const tickFont = { family: FONT, size: 17 };

  return {
    type: "scatter",
    data: { datasets },
    options: {
      responsive: false,
      maintainAspectRatio: false,
      animation: false,
      events: [],
      layout: { padding: { top: padTop, right: padRight, left: 0, bottom: 0 } },
      plugins: { legend: { display: false }, tooltip: { enabled: false } },
      scales: {
        x: {
          type: "linear",
          min: p.xr[0],
          max: p.xr[1],
          afterBuildTicks: (s: any) => { s.ticks = p.xTicks.map((v) => ({ value: v })); },
          afterFit: (s: any) => { s.height = xH; },
          grid: { color: gridColor, lineWidth: gridWidth, drawTicks: false },
          border: { display: false },
          ticks: { color: AXIS, font: tickFont, padding: 8, autoSkip: false, maxRotation: 0, minRotation: 0, callback: (v: any) => String(v) },
        },
        y: {
          type: "linear",
          min: p.yr[0],
          max: p.yr[1],
          afterBuildTicks: (s: any) => { s.ticks = p.yTicks.map((v) => ({ value: v })); },
          afterFit: (s: any) => { s.width = yW; },
          grid: { color: gridColor, lineWidth: gridWidth, drawTicks: false },
          border: { display: false },
          ticks: { color: AXIS, font: tickFont, padding: 6, autoSkip: false, callback: (v: any) => String(v) },
        },
      },
    },
    plugins: [makePlugin(p)],
  };
}

function PanelChart({ p }: { p: Panel }) {
  const ref = useRef<HTMLCanvasElement | null>(null);
  const canvasTop = Math.floor(p.plot.t) - 15;
  useEffect(() => {
    if (!ref.current) return;
    const chart = new Chart(ref.current, buildConfig(p, canvasTop));
    return () => chart.destroy();
  }, []);
  const cx = COL_X[p.col];
  const cw = COL_W[p.col];
  return (
    <canvas
      ref={ref}
      width={cw}
      height={CANVAS_H}
      style={{ position: "absolute", left: cx, top: canvasTop, width: cw, height: CANVAS_H }}
    />
  );
}

export default function App() {
  return (
    <div style={{ position: "absolute", left: 0, top: 0, width: 1237, height: 1600, background: "#ffffff", overflow: "hidden" }}>
      <div style={{ position: "absolute", left: 10, top: 165, width: 1219, height: 1390, background: "#f7f7f7" }} />
      {PANELS.map((p, i) => (
        <PanelChart key={i} p={p} />
      ))}
      {SUB_LABELS.map((s) => (
        <div
          key={s.text}
          style={{
            position: "absolute", left: 601, width: 80, top: s.y - 14, height: 28, lineHeight: "28px",
            textAlign: "center", fontFamily: FONT, fontSize: 24, color: "#222",
          }}
        >
          {s.text}
        </div>
      ))}
    </div>
  );
}
